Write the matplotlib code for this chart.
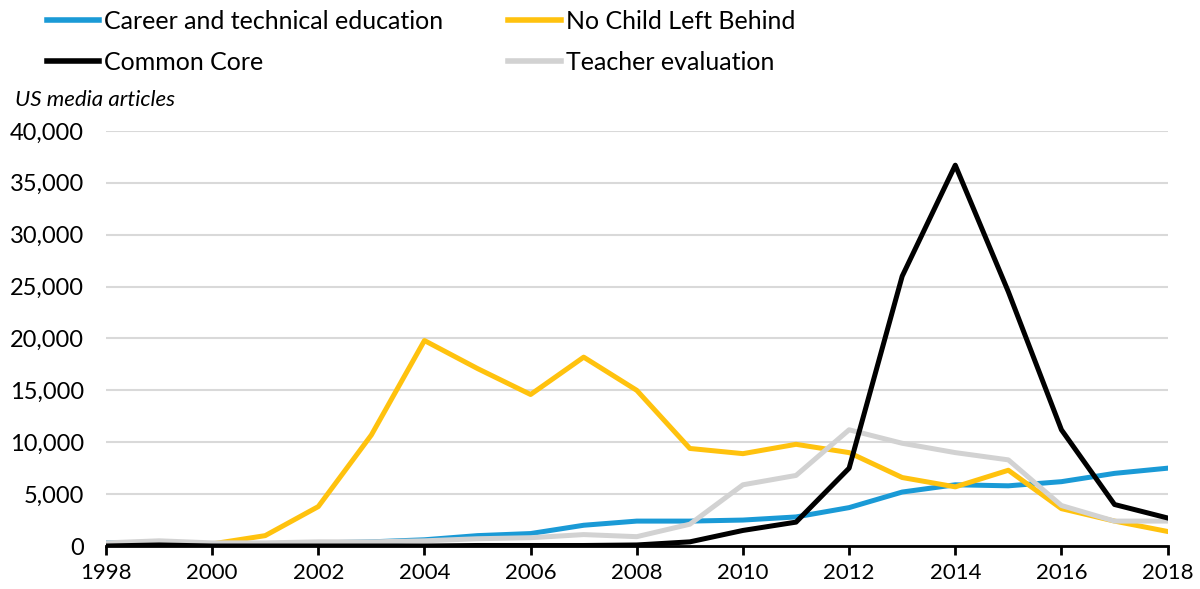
import matplotlib.pyplot as plt

plt.rcParams['font.family'] = ['Lato', 'DejaVu Sans']

years = list(range(1998, 2019))
career = [300, 300, 200, 200, 300, 400, 600, 1000, 1200, 2000, 2400,
          2400, 2500, 2800, 3700, 5200, 5900, 5800, 6200, 7000, 7500]
nclb = [0, 100, 200, 1000, 3800, 10700, 19800, 17100, 14600, 18200, 15000,
        9400, 8900, 9800, 9000, 6600, 5700, 7300, 3600, 2400, 1400]
common_core = [0, 100, 0, 0, 0, 0, 0, 50, 50, 50, 100,
               400, 1500, 2300, 7500, 26000, 36700, 24500, 11200, 4000, 2700]
teacher = [300, 500, 300, 300, 400, 400, 500, 700, 800, 1100, 900,
           2100, 5900, 6800, 11200, 9900, 9000, 8300, 3900, 2400, 2400]

fig = plt.figure(figsize=(12, 5.89), dpi=100)
ax = fig.add_axes([0.0883, 0.073, 0.8847, 0.7047])

lw = 3.6
l1, = ax.plot(years, career, color='#1a9ad6', lw=lw, label='Career and technical education', zorder=3)
l2, = ax.plot(years, nclb, color='#ffc20e', lw=lw, label='No Child Left Behind', zorder=4)
l4, = ax.plot(years, teacher, color='#d2d2d2', lw=lw, label='Teacher evaluation', zorder=5)
l3, = ax.plot(years, common_core, color='black', lw=lw, label='Common Core', zorder=6)

ax.set_xlim(1998, 2018)
ax.set_ylim(0, 40000)
ax.set_xticks(range(1998, 2019, 2))
ax.set_yticks(range(0, 40001, 5000))
ax.set_yticklabels(['{:,}'.format(v) for v in range(0, 40001, 5000)])
ax.grid(axis='y', color='#d9d9d9', lw=1.5)
ax.set_axisbelow(True)
for s in ['top', 'right', 'left']:
    ax.spines[s].set_visible(False)
ax.spines['bottom'].set_linewidth(2)
ax.spines['bottom'].set_zorder(7)
ax.tick_params(axis='y', length=0, labelsize=17, pad=16)
ax.tick_params(axis='x', length=6.5, width=2, direction='out', labelsize=16, pad=6)

fig.legend([l1, l3, l2, l4], [l1.get_label(), l3.get_label(), l2.get_label(), l4.get_label()],
           ncol=2, loc='upper left', bbox_to_anchor=(0.020, 1.022), frameon=False,
           fontsize=18, handlelength=2.1, handletextpad=0.2, columnspacing=2.6,
           labelspacing=0.73)
for h in fig.legends[0].get_lines():
    h.set_linewidth(4)

fig.text(0.0125, 0.830, 'US media articles', fontsize=16, style='italic', va='center')

fig.savefig('out.png', dpi=100)
